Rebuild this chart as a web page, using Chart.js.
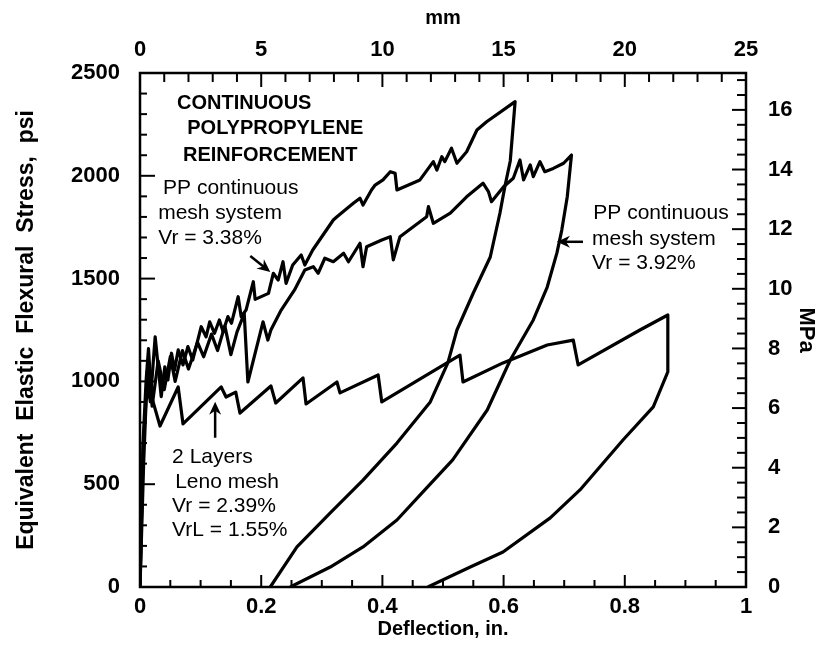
<!DOCTYPE html>
<html>
<head>
<meta charset="utf-8">
<title>Continuous polypropylene reinforcement</title>
<script src="https://cdn.jsdelivr.net/npm/chart.js"></script>
<style>
  body { margin: 0; background: #fff; }
  canvas { display: block; }
</style>
</head>
<body>
<canvas id="chart" width="819" height="663"></canvas>
<script>
// deflection (in.) / stress (psi)
const pp338X = [0, 0.006, 0.012, 0.017, 0.025, 0.035, 0.041, 0.046, 0.052, 0.057, 0.063, 0.071, 0.079, 0.087,
  0.101, 0.109, 0.115, 0.123, 0.131, 0.137, 0.145, 0.151, 0.162, 0.167, 0.175, 0.187, 0.190, 0.212, 0.220, 0.228,
  0.236, 0.241, 0.252, 0.266, 0.272, 0.285, 0.319, 0.325, 0.352, 0.363, 0.368, 0.382, 0.388, 0.401, 0.413, 0.421,
  0.424, 0.462, 0.484, 0.490, 0.498, 0.503, 0.514, 0.523, 0.539, 0.556, 0.572, 0.619,
  0.611, 0.602, 0.594, 0.578, 0.550, 0.523, 0.508, 0.479, 0.424, 0.368, 0.314, 0.259, 0.215];
const pp338Y = [0, 600, 1050, 900, 1217, 926, 1071, 1007, 1137, 1055, 1153, 1080, 1169, 1104,
  1266, 1217, 1290, 1234, 1299, 1242, 1315, 1283, 1412, 1315, 1347, 1485, 1399, 1428, 1526, 1493,
  1582, 1477, 1566, 1615, 1566, 1639, 1785, 1801, 1866, 1891, 1858, 1931, 1955, 1980, 2020, 2012,
  1931, 1980, 2069, 2028, 2093, 2069, 2134, 2061, 2117, 2223, 2263, 2361,
  2072, 1946, 1819, 1605, 1430, 1250, 1090, 900, 700, 520, 360, 195, 0];

const pp392X = [0, 0.005, 0.010, 0.014, 0.020, 0.030, 0.040, 0.050, 0.058, 0.070, 0.080, 0.095, 0.105, 0.118,
  0.128, 0.140, 0.150, 0.160, 0.172, 0.178, 0.203, 0.211, 0.216, 0.233, 0.255, 0.272, 0.286, 0.294, 0.305, 0.319,
  0.336, 0.344, 0.363, 0.368, 0.374, 0.399, 0.413, 0.418, 0.429, 0.473, 0.476, 0.484, 0.512, 0.539, 0.566, 0.575,
  0.580, 0.600, 0.616, 0.627, 0.633, 0.644, 0.649, 0.660, 0.668, 0.682, 0.699, 0.712,
  0.705, 0.696, 0.688, 0.672, 0.649, 0.611, 0.573, 0.516, 0.470, 0.424, 0.368, 0.314, 0.248];
const pp392Y = [0, 700, 1000, 1160, 880, 1100, 960, 1120, 1000, 1150, 1060, 1190, 1120, 1230,
  1150, 1270, 1130, 1240, 1330, 997, 1290, 1201, 1250, 1347, 1445, 1542, 1558, 1526, 1599, 1582,
  1623, 1582, 1672, 1558, 1655, 1688, 1704, 1591, 1704, 1801, 1850, 1769, 1818, 1898, 1964, 1923,
  1874, 1947, 1988, 2077, 1980, 2053, 1996, 2069, 2020, 2036, 2061, 2101,
  1897, 1736, 1625, 1459, 1299, 1104, 861, 618, 472, 326, 195, 97, 0];

const lenoX = [0, 0.005, 0.010, 0.017, 0.033, 0.063, 0.071, 0.134, 0.142, 0.158, 0.165, 0.216, 0.224, 0.269,
  0.274, 0.325, 0.330, 0.393, 0.399, 0.479, 0.528, 0.533, 0.599, 0.672, 0.715, 0.723, 0.825, 0.871,
  0.871, 0.847, 0.797, 0.726, 0.677, 0.599, 0.545, 0.475];
const lenoY = [0, 666, 910, 948, 783, 973, 793, 973, 924, 948, 846, 978, 895, 1017,
  890, 997, 944, 1031, 900, 1041, 1128, 997, 1090, 1177, 1201, 1080, 1250, 1323,
  1046, 876, 715, 472, 336, 170, 97, 0];

// tick labels
const inTicks = [0, 0.2, 0.4, 0.6, 0.8, 1];
const mmTicks = [0, 5, 10, 15, 20, 25];
const psiTicks = [0, 500, 1000, 1500, 2000, 2500];
const mpaTicks = [0, 2, 4, 6, 8, 10, 12, 14, 16];

const PSI_MAX = 2500;
const MPA_MAX = PSI_MAX * 0.00689476;

const tickFont = { family: 'Liberation Sans', size: 22, weight: 'bold' };
const titleFont = { family: 'Liberation Sans', size: 20, weight: 'bold' };

function pts(xs, ys) {
  return xs.map((x, i) => ({ x: x, y: ys[i] }));
}

function setTicks(list) {
  return s => { s.ticks = list.map(v => ({ value: v })); };
}

// free text on the plot, anchored in data units
const notes = [
  { t: 'CONTINUOUS', x: 0.061, y: 2354, bold: true },
  { t: 'POLYPROPYLENE', x: 0.078, y: 2228, bold: true },
  { t: 'REINFORCEMENT', x: 0.071, y: 2101, bold: true },
  { t: 'PP continuous', x: 0.038, y: 1941 },
  { t: 'mesh system', x: 0.030, y: 1819 },
  { t: 'Vr = 3.38%', x: 0.030, y: 1698 },
  { t: 'PP continuous', x: 0.748, y: 1819 },
  { t: 'mesh system', x: 0.746, y: 1693 },
  { t: 'Vr = 3.92%', x: 0.746, y: 1576 },
  { t: '2 Layers', x: 0.053, y: 632 },
  { t: 'Leno mesh', x: 0.058, y: 511 },
  { t: 'Vr = 2.39%', x: 0.053, y: 394 },
  { t: 'VrL = 1.55%', x: 0.053, y: 277 }
];
const arrows = [
  { x1: 0.182, y1: 1610, x2: 0.215, y2: 1532 },
  { x1: 0.731, y1: 1679, x2: 0.688, y2: 1679 },
  { x1: 0.124, y1: 726, x2: 0.124, y2: 901 }
];

const framePlugin = {
  id: 'frame',
  afterDraw(chart) {
    const { ctx, chartArea: a, scales } = chart;
    ctx.save();
    ctx.strokeStyle = '#000';
    ctx.fillStyle = '#000';
    ctx.lineCap = 'butt';

    // inward tick marks, major + minor
    ctx.lineWidth = 2;
    function marks(scale, step, major, minorLen, majorLen, side) {
      const n = Math.floor(scale.max / step + 1e-6);
      for (let i = 0; i <= n; i++) {
        const v = i * step;
        const isMajor = Math.abs(v / major - Math.round(v / major)) < 1e-6;
        const len = isMajor ? majorLen : minorLen;
        const p = scale.getPixelForValue(v);
        ctx.beginPath();
        if (side === 'bottom') { ctx.moveTo(p, a.bottom); ctx.lineTo(p, a.bottom - len); }
        if (side === 'top') { ctx.moveTo(p, a.top); ctx.lineTo(p, a.top + len); }
        if (side === 'left') { ctx.moveTo(a.left, p); ctx.lineTo(a.left + len, p); }
        if (side === 'right') { ctx.moveTo(a.right, p); ctx.lineTo(a.right - len, p); }
        ctx.stroke();
      }
    }
    marks(scales.x, 0.05, 0.2, 7, 12, 'bottom');
    marks(scales.x2, 1, 5, 9, 14, 'top');
    marks(scales.y, 100, 500, 7, 15, 'left');
    marks(scales.y2, 0.5, 2, 9, 14, 'right');

    ctx.lineWidth = 2.5;
    ctx.strokeRect(a.left, a.top, a.right - a.left, a.bottom - a.top);

    // notes
    ctx.textAlign = 'left';
    ctx.textBaseline = 'middle';
    notes.forEach(n => {
      ctx.font = (n.bold ? 'bold 20px' : '21px') + ' "Liberation Sans"';
      ctx.fillText(n.t, scales.x.getPixelForValue(n.x), scales.y.getPixelForValue(n.y));
    });

    // arrows
    ctx.lineWidth = 2.5;
    arrows.forEach(r => {
      const x1 = scales.x.getPixelForValue(r.x1), y1 = scales.y.getPixelForValue(r.y1);
      const x2 = scales.x.getPixelForValue(r.x2), y2 = scales.y.getPixelForValue(r.y2);
      const ang = Math.atan2(y2 - y1, x2 - x1);
      ctx.beginPath();
      ctx.moveTo(x1, y1);
      ctx.lineTo(x2 - 6 * Math.cos(ang), y2 - 6 * Math.sin(ang));
      ctx.stroke();
      ctx.save();
      ctx.translate(x2, y2);
      ctx.rotate(ang);
      ctx.beginPath();
      ctx.moveTo(0, 0);
      ctx.lineTo(-13, -6);
      ctx.lineTo(-9, 0);
      ctx.lineTo(-13, 6);
      ctx.closePath();
      ctx.fill();
      ctx.restore();
    });
    ctx.restore();
  }
};

const lineStyle = {
  showLine: true,
  pointRadius: 0,
  borderColor: '#000',
  borderWidth: 3.2,
  borderJoinStyle: 'round',
  fill: false,
  tension: 0
};

const noGrid = { display: false, drawTicks: false };

new Chart(document.getElementById('chart'), {
  type: 'scatter',
  data: {
    datasets: [
      Object.assign({ label: 'PP continuous mesh, Vr = 3.38%', data: pts(pp338X, pp338Y) }, lineStyle),
      Object.assign({ label: 'PP continuous mesh, Vr = 3.92%', data: pts(pp392X, pp392Y) }, lineStyle),
      Object.assign({ label: '2 layers Leno mesh, Vr = 2.39%', data: pts(lenoX, lenoY) }, lineStyle)
    ]
  },
  options: {
    responsive: false,
    animation: false,
    layout: { padding: 0 },
    plugins: { legend: { display: false }, tooltip: { enabled: false } },
    scales: {
      x: {
        type: 'linear', position: 'bottom', min: 0, max: 1,
        afterFit: s => { s.height = 76; },
        afterBuildTicks: setTicks(inTicks),
        grid: noGrid, border: { display: false },
        ticks: { font: tickFont, color: '#000', padding: 7, maxRotation: 0, callback: v => String(v) },
        title: { display: true, text: 'Deflection, in.', font: titleFont, color: '#000', padding: { top: 0, bottom: 22 } }
      },
      x2: {
        type: 'linear', position: 'top', min: 0, max: 25,
        afterFit: s => { s.height = 73; },
        afterBuildTicks: setTicks(mmTicks),
        grid: noGrid, border: { display: false },
        ticks: { font: tickFont, color: '#000', padding: 10, maxRotation: 0, callback: v => String(v) },
        title: { display: true, text: 'mm', font: titleFont, color: '#000', padding: { top: 6, bottom: 0 } }
      },
      y: {
        type: 'linear', position: 'left', min: 0, max: PSI_MAX,
        afterFit: s => { s.width = 140; },
        afterBuildTicks: setTicks(psiTicks),
        grid: noGrid, border: { display: false },
        ticks: { font: tickFont, color: '#000', padding: 20, callback: v => String(v) },
        title: {
          display: true, text: 'Equivalent  Elastic  Flexural  Stress,  psi',
          font: { family: 'Liberation Sans', size: 23, weight: 'bold' }, color: '#000',
          padding: { top: 13, bottom: 0 }
        }
      },
      y2: {
        type: 'linear', position: 'right', min: 0, max: MPA_MAX,
        afterFit: s => { s.width = 73; },
        afterBuildTicks: setTicks(mpaTicks),
        grid: noGrid, border: { display: false },
        ticks: { font: tickFont, color: '#000', padding: 22, callback: v => String(v) },
        title: {
          display: true, text: 'MPa',
          font: { family: 'Liberation Sans', size: 22, weight: 'bold' }, color: '#000',
          padding: { top: 0, bottom: 0 }
        }
      }
    }
  },
  plugins: [framePlugin]
});
</script>
</body>
</html>
